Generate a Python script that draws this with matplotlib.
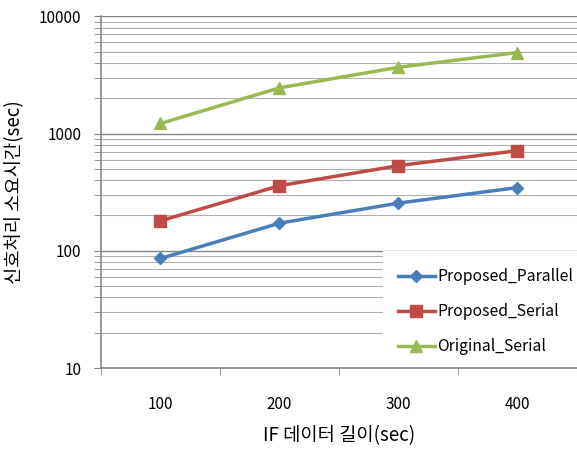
import numpy as np
import matplotlib
matplotlib.use("Agg")
import matplotlib.pyplot as plt
from matplotlib.patches import Rectangle
from matplotlib.ticker import LogLocator, NullFormatter, FixedLocator

plt.rcParams['font.family'] = ['Noto Sans CJK KR', 'DejaVu Sans']

# data
x_labels = ["100", "200", "300", "400"]
proposed_parallel = [86, 172, 255, 346]
proposed_serial = [180, 359, 532, 714]
original_serial = [1217, 2450, 3670, 4900]

series = [
    ("Proposed_Parallel", proposed_parallel, "#4a7ebb", "D", 6),
    ("Proposed_Serial", proposed_serial, "#be4b48", "s", 8),
    ("Original_Serial", original_serial, "#98b954", "^", 9),
]

fig = plt.figure(figsize=(5.77, 4.5), dpi=100)
ax = fig.add_axes([0.175, 0.182, 0.825, 0.782])

pos = np.arange(len(x_labels))
for name, vals, col, mk, ms in series:
    ax.plot(pos, vals, color=col, lw=2.5, marker=mk, markersize=ms,
            label=name, zorder=4)

ax.set_yscale("log")
ax.set_ylim(10, 10000)
ax.set_xlim(-0.5, 3.5)
ax.set_xticks(pos)
ax.set_xticklabels(x_labels)
ax.xaxis.set_minor_locator(FixedLocator([-0.5, 0.5, 1.5, 2.5, 3.5]))
ax.tick_params(axis="x", which="major", length=0, pad=20, labelsize=11)
ax.tick_params(axis="x", which="minor", length=5, color="#868686")
ax.yaxis.set_minor_locator(LogLocator(base=10, subs=np.arange(2, 10), numticks=20))
ax.yaxis.set_minor_formatter(NullFormatter())
ax.set_yticks([10, 100, 1000, 10000])
ax.set_yticklabels(["10", "100", "1000", "10000"])
ax.tick_params(axis="y", which="both", length=5, color="#868686", labelsize=11, pad=9)

ax.grid(True, which="major", axis="y", color="#868686", lw=1.0)
ax.grid(True, which="minor", axis="y", color="#b0b0b0", lw=0.8)
ax.set_axisbelow(True)

for s in ["top", "right"]:
    ax.spines[s].set_visible(False)
for s in ["left", "bottom"]:
    ax.spines[s].set_color("#868686")
    ax.spines[s].set_linewidth(1.2)

# white legend area covering the grid
ax.add_patch(Rectangle((0.592, 0.004), 0.41, 0.33, transform=ax.transAxes,
                       facecolor="white", edgecolor="none", zorder=2.5))
leg = ax.legend(loc="upper left", bbox_to_anchor=(0.6, 0.315), frameon=False,
                fontsize=11.3, handlelength=2.4, handletextpad=0.15,
                labelspacing=1.15, borderaxespad=0.3)

ax.set_ylabel("신호처리 소요시간(sec)", fontsize=13.5, labelpad=10)
ax.set_xlabel("IF 데이터 길이(sec)", fontsize=13.5, labelpad=9)

fig.savefig("out.png", dpi=100)
